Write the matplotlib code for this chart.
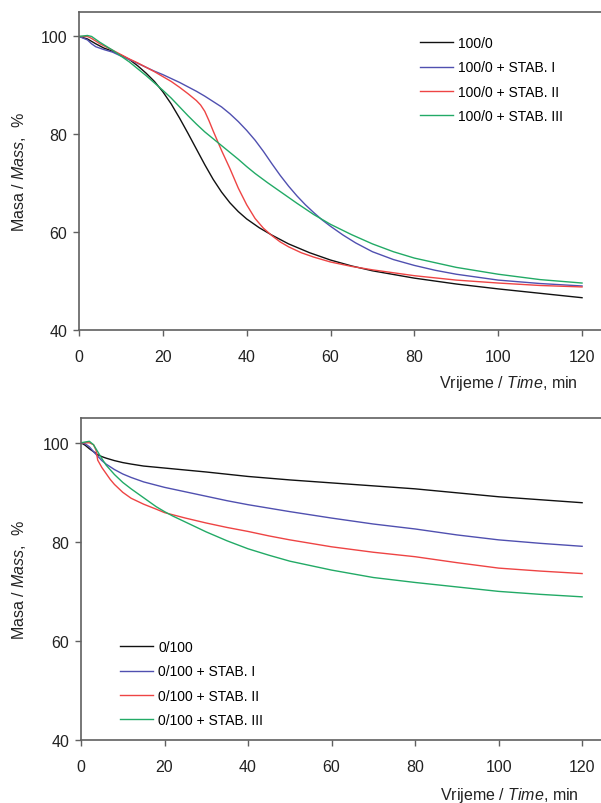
import matplotlib
matplotlib.use("Agg")
import matplotlib.pyplot as plt

plt.rcParams["font.family"] = ["Liberation Sans", "DejaVu Sans"]
plt.rcParams["mathtext.fontset"] = "custom"
plt.rcParams["mathtext.rm"] = "Liberation Sans"
plt.rcParams["mathtext.it"] = "Liberation Sans:italic"

# upper panel: 100/0 samples
t_black_a = [0, 2, 4, 6, 8, 10, 12, 14, 16, 18, 20, 22, 24, 26, 28, 30, 32, 34, 36, 38, 40,
             43, 46, 50, 55, 60, 65, 70, 80, 90, 100, 110, 120]
m_black_a = [100, 99.5, 98.5, 97.6, 97, 96.2, 95.3, 94, 92.5, 90.8, 88.7, 86.2, 83.3, 80.2, 77,
             73.8, 70.8, 68.2, 66, 64.2, 62.7, 60.9, 59.4, 57.6, 55.8, 54.3, 53.1, 52.1, 50.6,
             49.4, 48.4, 47.5, 46.6]
t_blue_a = [0, 2, 3, 4, 6, 8, 10, 12, 14, 16, 18, 20, 22, 24, 26, 28, 30, 32, 34, 36, 38, 40, 42,
            44, 46, 48, 50, 52, 54, 56, 58, 60, 63, 66, 70, 75, 80, 85, 90, 100, 110, 120]
m_blue_a = [100, 99.3, 98.5, 97.9, 97.3, 96.8, 96, 95.3, 94.5, 93.7, 92.9, 92.2, 91.4, 90.6,
            89.7, 88.8, 87.8, 86.7, 85.6, 84.2, 82.6, 80.8, 78.8, 76.5, 74, 71.6, 69.4, 67.4,
            65.6, 64, 62.5, 61.2, 59.4, 57.8, 56, 54.4, 53.2, 52.2, 51.4, 50.2, 49.5, 49]
t_red_a = [0, 2, 3, 5, 8, 10, 12, 14, 16, 18, 20, 22, 24, 26, 28, 29, 30, 31, 32, 34, 36, 38,
           40, 42, 44, 46, 48, 50, 53, 56, 60, 65, 70, 80, 90, 100, 110, 120]
m_red_a = [100, 100, 99.6, 98.5, 97.2, 96.3, 95.4, 94.6, 93.7, 92.8, 91.8, 90.8, 89.6, 88.3,
           86.9, 86, 84.7, 82.8, 80.7, 76.7, 73, 69, 65.6, 62.8, 60.8, 59.3, 58, 57, 55.8, 54.9,
           53.9, 53, 52.3, 51.1, 50.2, 49.6, 49.1, 48.8]
t_green_a = [0, 2, 3, 5, 8, 10, 12, 14, 16, 18, 20, 22, 24, 26, 28, 30, 32, 34, 36, 38, 40, 42,
             45, 48, 52, 56, 60, 65, 70, 75, 80, 90, 100, 110, 120]
m_green_a = [100, 100.2, 100, 98.8, 97.2, 96, 94.8, 93.4, 92, 90.5, 89, 87.4, 85.6, 83.8,
             82.1, 80.5, 79.1, 77.7, 76.3, 74.9, 73.4, 72, 70.1, 68.3, 65.9, 63.6, 61.6, 59.5,
             57.6, 56, 54.7, 52.8, 51.4, 50.3, 49.6]

# lower panel: 0/100 samples
t_black_b = [0, 1, 2, 3, 4, 5, 6, 8, 10, 12, 15, 20, 25, 30, 40, 50, 60, 70, 80, 90, 100, 110, 120]
m_black_b = [100, 99.5, 98.8, 98.2, 97.6, 97.2, 96.9, 96.4, 96, 95.7, 95.3, 94.9, 94.5, 94.1,
             93.2, 92.5, 91.9, 91.3, 90.7, 89.9, 89.1, 88.5, 87.9]
t_blue_b = [0, 1, 2, 3, 4, 5, 6, 8, 10, 12, 15, 20, 25, 30, 35, 40, 45, 50, 60, 70, 80, 90, 100,
            110, 120]
m_blue_b = [100, 99.8, 99.2, 98.2, 97.3, 96.4, 95.7, 94.6, 93.7, 93, 92.1, 91, 90.1, 89.2, 88.3,
            87.5, 86.8, 86.1, 84.8, 83.6, 82.6, 81.4, 80.4, 79.7, 79.1]
t_red_b = [0, 2, 3, 3.6, 4, 5, 6, 7, 8, 10, 12, 15, 18, 20, 25, 30, 35, 40, 45, 50, 60, 70, 80,
           90, 100, 110, 120]
m_red_b = [100, 100, 99.6, 98.5, 96.5, 95, 93.8, 92.6, 91.6, 90, 88.8, 87.6, 86.6, 85.9, 84.8,
           83.8, 82.9, 82.1, 81.2, 80.4, 79, 77.9, 77, 75.8, 74.7, 74.1, 73.6]
t_green_b = [0, 2, 3, 4, 5, 6, 8, 10, 12, 15, 18, 20, 22, 25, 28, 30, 35, 40, 45, 50, 60, 70, 80,
             90, 100, 110, 120]
m_green_b = [100, 100.3, 99.6, 98.2, 96.8, 95.5, 93.6, 92, 90.7, 88.9, 87.1, 86.1, 85.2, 84,
             82.8, 82, 80.2, 78.6, 77.3, 76.1, 74.3, 72.8, 71.8, 70.9, 70, 69.4, 68.9]

labels_a = ["100/0", "100/0 + STAB. I", "100/0 + STAB. II", "100/0 + STAB. III"]
labels_b = ["0/100", "0/100 + STAB. I", "0/100 + STAB. II", "0/100 + STAB. III"]
colors = ["#111111", "#5050b0", "#ee4444", "#22aa66"]
xticks = [0, 20, 40, 60, 80, 100, 120]
yticks = [40, 60, 80, 100]

W, H = 601, 804
fig = plt.figure(figsize=(W / 100, H / 100), dpi=100)


def style(ax):
    ax.set_xlim(0, 125)
    ax.set_ylim(40, 105)
    ax.set_xticks(xticks)
    ax.set_yticks(yticks)
    for s in ["left", "bottom", "top"]:
        ax.spines[s].set_color("#606060")
        ax.spines[s].set_linewidth(1.2)
    ax.spines["right"].set_visible(False)
    ax.tick_params(direction="out", length=4, width=1, color="#606060", labelsize=11.5,
                   labelcolor="#222222")
    ax.tick_params(axis="x", pad=10)
    ax.tick_params(axis="y", pad=4.5)
    ax.set_ylabel("Masa / $\\mathit{Mass}$,  %", fontsize=11.5, color="#222222")
    ax.set_xlabel("Vrijeme / $\\mathit{Time}$, min", fontsize=11.5, color="#222222", ha="right")


ax1 = fig.add_axes([79 / W, 1 - 331 / H, 524 / W, 318 / H])
for t, m, c, lab in zip([t_black_a, t_blue_a, t_red_a, t_green_a],
                        [m_black_a, m_blue_a, m_red_a, m_green_a], colors, labels_a):
    ax1.plot(t, m, color=c, lw=1.0, label=lab)
style(ax1)
ax1.yaxis.set_label_coords(-0.098, 0.5)
ax1.xaxis.set_label_coords(0.952, -0.135)
ax1.legend(loc="upper left", bbox_to_anchor=(420 / W, 1 - 37 / H), bbox_transform=fig.transFigure,
           frameon=False, fontsize=10, handlelength=2.4, handletextpad=0.35, labelspacing=0.75,
           borderpad=0, borderaxespad=0)

ax2 = fig.add_axes([81 / W, 1 - 741 / H, 522 / W, 322 / H])
for t, m, c, lab in zip([t_black_b, t_blue_b, t_red_b, t_green_b],
                        [m_black_b, m_blue_b, m_red_b, m_green_b], colors, labels_b):
    ax2.plot(t, m, color=c, lw=1.0, label=lab)
style(ax2)
ax2.yaxis.set_label_coords(-0.102, 0.5)
ax2.xaxis.set_label_coords(0.954, -0.14)
ax2.legend(loc="upper left", bbox_to_anchor=(120 / W, 1 - 641 / H), bbox_transform=fig.transFigure,
           frameon=False, fontsize=10, handlelength=2.4, handletextpad=0.35, labelspacing=0.75,
           borderpad=0, borderaxespad=0)

fig.savefig("out.png", dpi=100)
